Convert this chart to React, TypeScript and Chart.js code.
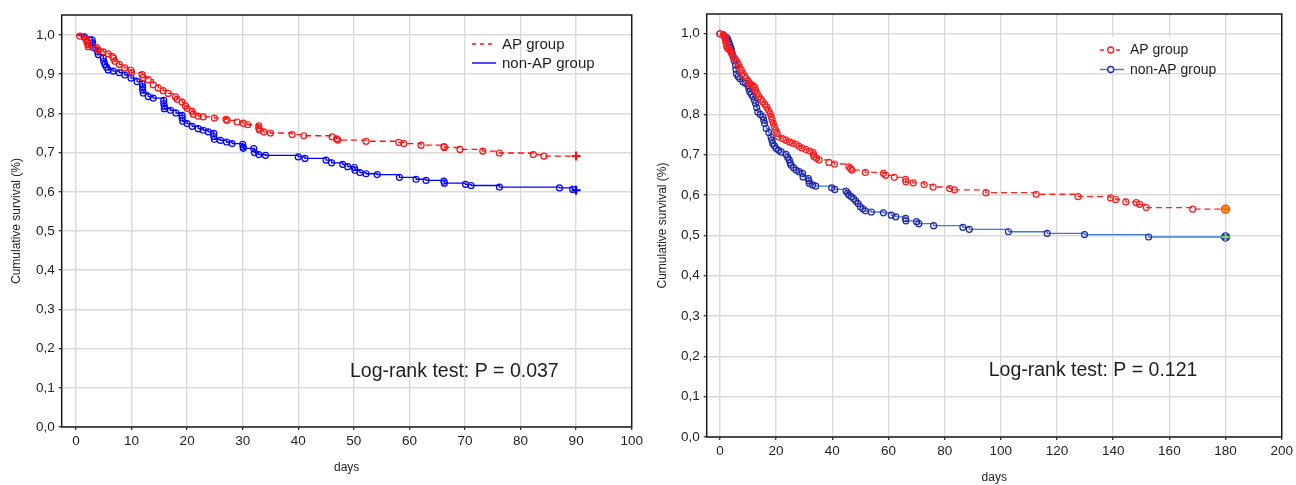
import React, { useEffect, useRef } from "react";
import { Chart, registerables } from "chart.js";
Chart.register(...registerables);

const FONT = "'Liberation Sans', Arial, Helvetica, sans-serif";

const seriesNames = ["AP group", "non-AP group"];
const yTitle = "Cumulative survival (%)";
const xTitle = "days";
const yTicks = [0, 0.1, 0.2, 0.3, 0.4, 0.5, 0.6, 0.7, 0.8, 0.9, 1.0];

// ---------- Chart A: 90-day follow-up ----------
const xTicksA = [0, 10, 20, 30, 40, 50, 60, 70, 80, 90, 100];
const pValueA = "0.037";
const apDaysA = [0, 0.7, 1.8, 2.0, 2.0, 2.2, 2.2, 3.7, 4.0, 4.9, 5.8, 6.6, 6.8, 7.0, 7.8, 8.8, 9.9, 10.0, 11.9, 12.1, 13.0, 13.9, 14.8, 15.7, 16.6, 17.9, 18.2, 19.1, 19.7, 20.0, 20.9, 21.1, 22.0, 22.9, 24.9, 27.0, 27.2, 29.0, 30.1, 30.9, 32.9, 32.9, 33.0, 33.8, 35.0, 38.9, 41.0, 46.1, 46.9, 47.1, 52.2, 58.1, 59.0, 62.1, 66.2, 66.3, 69.1, 73.2, 76.2, 82.3, 84.2, 90.0];
const apSurvA = [1.0, 0.997, 0.99, 0.985, 0.98, 0.975, 0.97, 0.968, 0.962, 0.957, 0.952, 0.945, 0.94, 0.933, 0.925, 0.916, 0.91, 0.904, 0.899, 0.891, 0.886, 0.873, 0.865, 0.858, 0.851, 0.842, 0.836, 0.829, 0.819, 0.813, 0.805, 0.798, 0.793, 0.791, 0.788, 0.785, 0.782, 0.778, 0.775, 0.771, 0.768, 0.762, 0.758, 0.753, 0.75, 0.746, 0.743, 0.74, 0.735, 0.732, 0.729, 0.726, 0.723, 0.719, 0.715, 0.713, 0.708, 0.704, 0.699, 0.695, 0.691, 0.691];
const nonApDaysA = [0, 1.5, 2.9, 3.0, 3.0, 3.1, 3.9, 4.0, 4.9, 5.0, 5.2, 5.5, 5.8, 6.7, 7.8, 8.8, 9.9, 11.0, 11.9, 12.0, 12.0, 12.1, 13.0, 13.9, 15.8, 15.8, 15.9, 15.9, 17.0, 18.0, 19.1, 19.1, 19.2, 20.0, 20.9, 22.0, 22.9, 23.8, 24.8, 24.8, 24.9, 26.0, 27.1, 28.1, 30.0, 30.1, 30.1, 32.0, 32.1, 32.9, 34.1, 40.0, 41.2, 45.0, 46.0, 48.0, 48.9, 50.1, 50.2, 51.1, 52.2, 54.2, 58.2, 61.2, 63.0, 66.2, 66.3, 70.1, 71.1, 76.2, 87.0, 89.4, 90.0];
const nonApSurvA = [1.0, 0.995, 0.987, 0.98, 0.974, 0.968, 0.957, 0.95, 0.941, 0.933, 0.925, 0.918, 0.911, 0.908, 0.904, 0.898, 0.89, 0.881, 0.876, 0.868, 0.86, 0.852, 0.843, 0.839, 0.833, 0.825, 0.818, 0.812, 0.808, 0.801, 0.795, 0.788, 0.78, 0.774, 0.767, 0.761, 0.757, 0.753, 0.749, 0.741, 0.734, 0.731, 0.727, 0.723, 0.721, 0.714, 0.711, 0.71, 0.7, 0.695, 0.693, 0.689, 0.685, 0.681, 0.674, 0.67, 0.664, 0.662, 0.655, 0.649, 0.646, 0.644, 0.637, 0.632, 0.629, 0.627, 0.622, 0.619, 0.616, 0.612, 0.61, 0.606, 0.604];

// ---------- Chart B: 180-day follow-up ----------
const xTicksB = [0, 20, 40, 60, 80, 100, 120, 140, 160, 180, 200];
const pValueB = "0.121";
const apDaysB = [0, 1.2, 1.6, 1.8, 2.0, 2.2, 2.4, 2.6, 3.0, 3.5, 4.1, 4.6, 5.3, 5.9, 6.5, 7.0, 7.6, 8.2, 8.8, 9.4, 10.0, 10.6, 11.2, 11.8, 12.4, 12.7, 13.3, 13.9, 14.6, 15.3, 16.0, 16.7, 17.3, 17.9, 18.3, 18.6, 19.0, 19.4, 19.9, 20.4, 20.9, 22.3, 23.5, 24.7, 25.9, 27.1, 28.2, 29.2, 30.6, 32.0, 33.2, 33.4, 33.5, 34.4, 35.3, 38.8, 40.8, 45.9, 46.5, 47.0, 51.8, 58.2, 59.0, 62.1, 66.1, 66.2, 68.8, 72.7, 75.9, 81.8, 83.5, 94.7, 112.6, 127.5, 139.1, 140.9, 144.5, 148.2, 149.4, 151.8, 168.3, 180.0];
const apSurvB = [1.0, 0.998, 0.994, 0.99, 0.984, 0.978, 0.971, 0.965, 0.963, 0.96, 0.952, 0.946, 0.939, 0.933, 0.926, 0.918, 0.91, 0.902, 0.895, 0.889, 0.883, 0.877, 0.874, 0.871, 0.867, 0.86, 0.852, 0.844, 0.838, 0.831, 0.825, 0.818, 0.81, 0.802, 0.794, 0.786, 0.778, 0.769, 0.761, 0.753, 0.744, 0.74, 0.736, 0.732, 0.729, 0.726, 0.721, 0.717, 0.713, 0.709, 0.705, 0.7, 0.695, 0.691, 0.687, 0.681, 0.677, 0.67, 0.666, 0.662, 0.656, 0.654, 0.649, 0.644, 0.639, 0.633, 0.63, 0.626, 0.62, 0.616, 0.613, 0.606, 0.602, 0.596, 0.593, 0.589, 0.583, 0.581, 0.577, 0.569, 0.565, 0.565];
const nonApDaysB = [0, 1.5, 2.5, 2.9, 3.2, 3.5, 3.8, 4.1, 4.4, 4.7, 5.1, 5.6, 5.7, 5.9, 6.5, 7.1, 8.2, 9.1, 10.0, 10.3, 10.6, 11.2, 11.8, 12.3, 12.7, 13.1, 13.5, 14.4, 15.3, 15.6, 15.9, 16.5, 17.4, 18.2, 18.5, 18.8, 19.4, 20.0, 20.9, 21.8, 23.5, 24.1, 24.7, 25.0, 25.3, 26.2, 27.1, 28.2, 29.4, 29.6, 31.5, 31.7, 31.8, 33.0, 34.1, 39.8, 40.9, 44.9, 45.5, 45.9, 46.8, 47.6, 48.4, 49.2, 50.0, 50.9, 51.8, 53.9, 58.2, 61.0, 62.6, 66.1, 66.2, 70.0, 70.8, 76.1, 86.5, 88.8, 102.7, 116.5, 129.8, 152.6, 180.0];
const nonApSurvB = [1.0, 0.995, 0.99, 0.984, 0.978, 0.972, 0.966, 0.96, 0.951, 0.943, 0.933, 0.922, 0.912, 0.9, 0.894, 0.889, 0.881, 0.877, 0.872, 0.864, 0.856, 0.85, 0.844, 0.835, 0.827, 0.817, 0.806, 0.8, 0.794, 0.786, 0.778, 0.765, 0.755, 0.744, 0.736, 0.728, 0.722, 0.716, 0.711, 0.707, 0.701, 0.694, 0.687, 0.68, 0.674, 0.668, 0.662, 0.658, 0.654, 0.645, 0.641, 0.635, 0.629, 0.625, 0.622, 0.618, 0.614, 0.61, 0.605, 0.6, 0.596, 0.591, 0.585, 0.579, 0.571, 0.566, 0.561, 0.558, 0.556, 0.55, 0.546, 0.542, 0.536, 0.534, 0.529, 0.524, 0.52, 0.515, 0.509, 0.505, 0.502, 0.496, 0.496];

const W = 648;
const H = 485;

type Spec = {
  apDays: number[]; apSurv: number[]; nonDays: number[]; nonSurv: number[];
  xTicks: number[]; xMin: number; xMax: number; yMax: number;
  area: { left: number; right: number; top: number; bottom: number };
  yTitlePad: number; xTitlePad: number; tickSize: number;
  apColor: string; apMarker: string; nonLine: string; nonMarker: string;
  markFirst: boolean; fancyEnd: boolean;
  legend: { x0: number; x1: number; mx: number; tx: number; ys: number[]; size: number; markers: boolean; bg?: number[] };
  pText: string; pX: number; pY: number;
};

const toPts = (d: number[], s: number[]) => d.map((x, i) => ({ x, y: s[i] }));

const decorPlugin = {
  id: "kmDecor",
  beforeDatasetsDraw(chart: any, _a: any, opts: any) {
    const { ctx, chartArea: c } = chart;
    ctx.save();
    ctx.strokeStyle = "#1a1a1a";
    ctx.lineWidth = 1.5;
    ctx.setLineDash([]);
    ctx.strokeRect(c.left, c.top, c.right - c.left, c.bottom - c.top);
    ctx.restore();
  },
  afterDraw(chart: any, _a: any, opts: any) {
    const { ctx } = chart;
    const lg = opts.legend;
    ctx.save();
    if (lg.bg) {
      ctx.fillStyle = "#ffffff";
      ctx.fillRect(lg.bg[0], lg.bg[1], lg.bg[2], lg.bg[3]);
    }
    opts.items.forEach((it: any, i: number) => {
      const y = lg.ys[i];
      ctx.strokeStyle = it.line;
      ctx.lineWidth = 1.4;
      ctx.setLineDash(it.dash);
      ctx.beginPath();
      ctx.moveTo(lg.x0, y);
      ctx.lineTo(lg.x1, y);
      ctx.stroke();
      ctx.setLineDash([]);
      if (lg.markers) {
        ctx.beginPath();
        ctx.arc(lg.mx, y, 3, 0, Math.PI * 2);
        ctx.fillStyle = "#ffffff";
        ctx.fill();
        ctx.strokeStyle = it.marker;
        ctx.lineWidth = 1.3;
        ctx.stroke();
      }
      ctx.fillStyle = "#1e1e1e";
      ctx.font = `${lg.size}px ${FONT}`;
      ctx.textAlign = "left";
      ctx.textBaseline = "middle";
      ctx.fillText(it.text, lg.tx, y + 0.5);
    });
    ctx.fillStyle = "#1e1e1e";
    ctx.font = `19.5px ${FONT}`;
    ctx.textAlign = "left";
    ctx.textBaseline = "middle";
    ctx.fillText(opts.pText, opts.pX, opts.pY);
    ctx.restore();
  },
};

function buildConfig(s: Spec): any {
  const apPts = toPts(s.apDays, s.apSurv);
  const nonPts = toPts(s.nonDays, s.nonSurv);
  const lastAp = apPts[apPts.length - 1];
  const lastNon = nonPts[nonPts.length - 1];
  const radius = (n: number) => (ctx: any) =>
    (ctx.dataIndex === 0 && !s.markFirst) || ctx.dataIndex === n - 1 ? 0 : 3;

  const endSets: any[] = [];
  if (s.fancyEnd) {
    endSets.push(
      { data: [lastAp], showLine: false, pointStyle: "cross", pointRadius: 4, pointBorderColor: "#ff6a00", pointBorderWidth: 2 },
      { data: [lastNon], showLine: false, pointStyle: "cross", pointRadius: 4, pointBorderColor: "#7ed957", pointBorderWidth: 2 },
      { data: [lastAp], showLine: false, pointStyle: "circle", pointRadius: 4, pointBorderColor: "#ff2a2a", pointBackgroundColor: "#ffc400", pointBorderWidth: 1.3 },
      { data: [lastNon], showLine: false, pointStyle: "circle", pointRadius: 4, pointBorderColor: "#1f26c8", pointBackgroundColor: "#2a3cd0", pointBorderWidth: 1.3 }
    );
  } else {
    endSets.push(
      { data: [lastAp], showLine: false, pointStyle: "cross", pointRadius: 4.5, pointBorderColor: s.apColor, pointBorderWidth: 2.2 },
      { data: [lastNon], showLine: false, pointStyle: "cross", pointRadius: 4.5, pointBorderColor: s.nonLine, pointBorderWidth: 2.2 }
    );
  }

  return {
    type: "line",
    data: {
      datasets: [
        ...endSets,
        {
          label: seriesNames[0],
          data: apPts,
          stepped: true,
          borderColor: s.apColor,
          borderWidth: 1.3,
          borderDash: [6, 4],
          fill: false,
          pointStyle: "circle",
          pointRadius: radius(apPts.length),
          pointBorderColor: s.apMarker,
          pointBackgroundColor: "rgba(0,0,0,0)",
          pointBorderWidth: 1.2,
        },
        {
          label: seriesNames[1],
          data: nonPts,
          stepped: true,
          borderColor: s.nonLine,
          borderWidth: 1.3,
          fill: false,
          pointStyle: "circle",
          pointRadius: radius(nonPts.length),
          pointBorderColor: s.nonMarker,
          pointBackgroundColor: "rgba(0,0,0,0)",
          pointBorderWidth: 1.2,
        },
      ],
    },
    options: {
      responsive: false,
      animation: false,
      devicePixelRatio: 1,
      layout: { padding: { left: 0, right: W - s.area.right, top: s.area.top, bottom: 0 } },
      plugins: {
        legend: { display: false },
        tooltip: { enabled: false },
        kmDecor: {
          legend: s.legend,
          items: [
            { text: seriesNames[0], line: s.apColor, marker: s.apMarker, dash: [4, 4] },
            { text: seriesNames[1], line: s.nonLine, marker: s.nonMarker, dash: [] },
          ],
          pText: s.pText,
          pX: s.pX,
          pY: s.pY,
        },
      },
      scales: {
        x: {
          type: "linear",
          min: s.xMin,
          max: s.xMax,
          afterBuildTicks: (sc: any) => { sc.ticks = s.xTicks.map((v) => ({ value: v })); },
          afterFit: (sc: any) => { sc.height = H - s.area.bottom; },
          grid: { color: "#dadada", lineWidth: 1.4, tickLength: 3, tickColor: "#222", tickWidth: 1.2 },
          border: { display: false },
          ticks: { font: { family: FONT, size: s.tickSize }, color: "#222", padding: 3, maxRotation: 0, autoSkip: false },
          title: { display: true, text: xTitle, color: "#222", font: { family: FONT, size: 12 }, padding: { top: 0, bottom: s.xTitlePad } },
        },
        y: {
          type: "linear",
          min: 0,
          max: s.yMax,
          afterBuildTicks: (sc: any) => { sc.ticks = yTicks.map((v) => ({ value: v })); },
          afterFit: (sc: any) => { sc.width = s.area.left; },
          grid: { color: "#dadada", lineWidth: 1.4, tickLength: 3, tickColor: "#222", tickWidth: 1.2 },
          border: { display: false },
          ticks: {
            font: { family: FONT, size: s.tickSize },
            color: "#222",
            padding: 4,
            callback: (v: number) => v.toFixed(1).replace(".", ","),
          },
          title: { display: true, text: yTitle, color: "#222", font: { family: FONT, size: 12 }, padding: { top: s.yTitlePad, bottom: 0 } },
        },
      },
    },
    plugins: [decorPlugin],
  };
}

const specA: Spec = {
  apDays: apDaysA, apSurv: apSurvA, nonDays: nonApDaysA, nonSurv: nonApSurvA,
  xTicks: xTicksA, xMin: -2.57, xMax: 100, yMax: 1.051,
  area: { left: 61.7, right: 631.7, top: 15, bottom: 427 },
  yTitlePad: 9.8, xTitlePad: 10.5, tickSize: 13.5,
  apColor: "#ff1010", apMarker: "#ff1010", nonLine: "#0000ff", nonMarker: "#0000ff",
  markFirst: false, fancyEnd: false,
  legend: { x0: 472, x1: 496, mx: 484, tx: 502, ys: [44, 63], size: 15, markers: false },
  pText: "Log-rank test: P = " + pValueA, pX: 350, pY: 372,
};

const specB: Spec = {
  apDays: apDaysB, apSurv: apSurvB, nonDays: nonApDaysB, nonSurv: nonApSurvB,
  xTicks: xTicksB, xMin: -4.7, xMax: 200, yMax: 1.049,
  area: { left: 58.7, right: 636.5, top: 14, bottom: 437 },
  yTitlePad: 7.8, xTitlePad: 0, tickSize: 13.5,
  apColor: "#ff2020", apMarker: "#ff1a1a", nonLine: "#3f78d8", nonMarker: "#1f26a8",
  markFirst: true, fancyEnd: true,
  legend: { x0: 452, x1: 476, mx: 462.7, tx: 482, ys: [50, 69.5], size: 14, markers: true, bg: [440, 37, 137, 35] },
  pText: "Log-rank test: P = " + pValueB, pX: 340.7, pY: 371,
};

function KMChart({ spec }: { spec: Spec }) {
  const ref = useRef<HTMLCanvasElement | null>(null);
  useEffect(() => {
    if (!ref.current) return;
    const chart = new Chart(ref.current, buildConfig(spec));
    return () => chart.destroy();
  }, [spec]);
  return <canvas ref={ref} width={W} height={H} style={{ display: "block", width: W, height: H }} />;
}

export default function App() {
  return (
    <div style={{ position: "absolute", left: 0, top: 0, width: 1296, height: 485, display: "flex", background: "#ffffff" }}>
      <KMChart spec={specA} />
      <KMChart spec={specB} />
    </div>
  );
}
